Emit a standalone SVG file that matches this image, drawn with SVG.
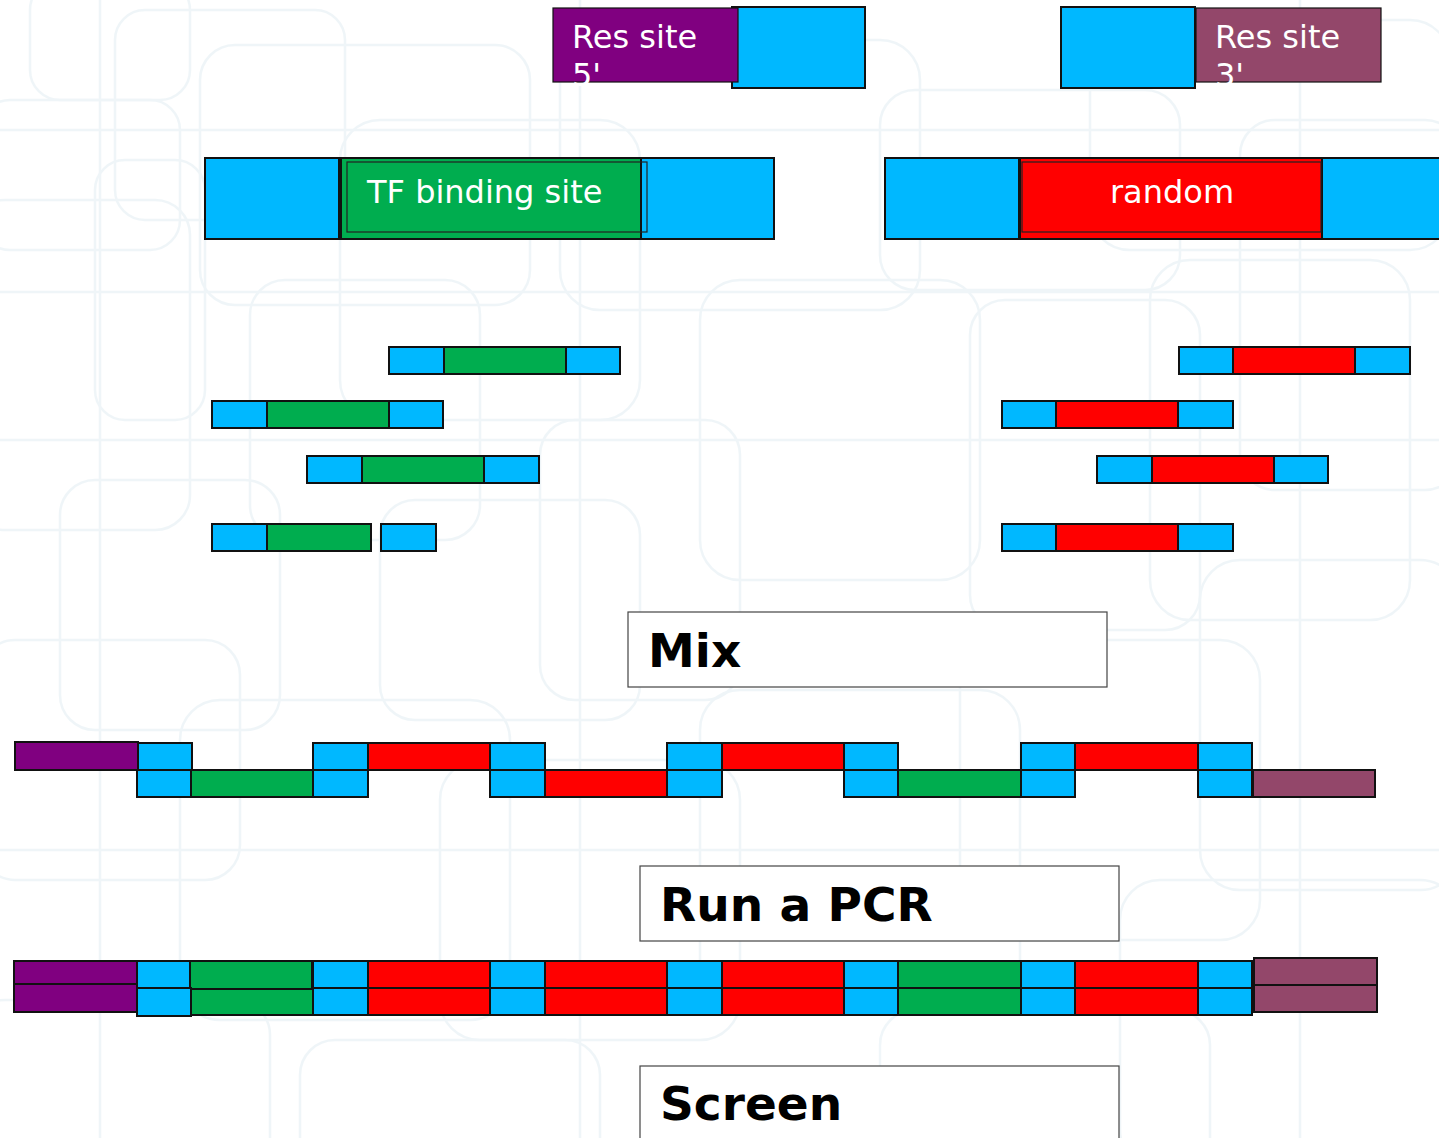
<svg xmlns="http://www.w3.org/2000/svg" width="1439" height="1138" viewBox="0 0 1439 1138">
  <defs>
    <style>
      .bg-line { fill: none; stroke: #e6f0f5; stroke-width: 2.5; }
      .b { fill: #00B8FF; stroke: #111; stroke-width: 2; }
      .g { fill: #00AD4F; stroke: #111; stroke-width: 2; }
      .r { fill: #FF0000; stroke: #111; stroke-width: 2; }
      .p { fill: #800080; stroke: #111; stroke-width: 2; }
      .m { fill: #93476A; stroke: #111; stroke-width: 2; }
      .thin { stroke-width: 1.2; }
      .inner { fill: none; stroke: #222; stroke-width: 1.2; }
      .lbl { font-family: "DejaVu Sans", "Liberation Sans", sans-serif; font-size: 32px; fill: #ffffff; }
      .step { fill: #ffffff; stroke: #444; stroke-width: 1.2; }
      .steptxt { font-family: "DejaVu Sans", "Liberation Sans", sans-serif; font-size: 47px; font-weight: bold; fill: #000; }
    </style>
  </defs>

  <!-- page background with faint rounded grid ornament -->
  <rect x="0" y="0" width="1439" height="1138" fill="#ffffff"/>
  <g id="background" class="bg-line" opacity="0.6">
    <rect x="30" y="-20" width="160" height="120" rx="30"/>
    <rect x="115" y="10" width="230" height="210" rx="30"/>
    <rect x="-20" y="100" width="200" height="150" rx="30"/>
    <rect x="200" y="45" width="330" height="260" rx="35"/>
    <rect x="95" y="160" width="110" height="260" rx="30"/>
    <rect x="-30" y="200" width="220" height="330" rx="35"/>
    <rect x="250" y="280" width="230" height="260" rx="35"/>
    <rect x="340" y="120" width="300" height="300" rx="40"/>
    <rect x="560" y="40" width="360" height="270" rx="40"/>
    <rect x="700" y="280" width="280" height="300" rx="40"/>
    <rect x="880" y="90" width="300" height="200" rx="35"/>
    <rect x="1090" y="20" width="360" height="230" rx="40"/>
    <rect x="1240" y="120" width="220" height="370" rx="35"/>
    <rect x="970" y="300" width="230" height="330" rx="35"/>
    <rect x="1150" y="260" width="260" height="360" rx="40"/>
    <rect x="540" y="420" width="200" height="280" rx="35"/>
    <rect x="380" y="500" width="260" height="220" rx="35"/>
    <rect x="60" y="480" width="220" height="250" rx="35"/>
    <rect x="-20" y="640" width="260" height="240" rx="35"/>
    <rect x="180" y="700" width="330" height="320" rx="40"/>
    <rect x="440" y="760" width="300" height="280" rx="40"/>
    <rect x="700" y="690" width="320" height="310" rx="40"/>
    <rect x="960" y="640" width="300" height="300" rx="40"/>
    <rect x="1200" y="560" width="260" height="330" rx="40"/>
    <rect x="1120" y="880" width="340" height="290" rx="40"/>
    <rect x="-30" y="1000" width="300" height="200" rx="35"/>
    <rect x="300" y="1040" width="300" height="160" rx="35"/>
    <rect x="880" y="1010" width="330" height="190" rx="35"/>
    <line x1="0" y1="130" x2="1439" y2="130"/>
    <line x1="0" y1="292" x2="1439" y2="292"/>
    <line x1="0" y1="440" x2="1439" y2="440"/>
    <line x1="0" y1="850" x2="1439" y2="850"/>
    <line x1="100" y1="0" x2="100" y2="1138"/>
    <line x1="580" y1="0" x2="580" y2="1138"/>
    <line x1="1300" y1="0" x2="1300" y2="1138"/>
  </g>

  <!-- connectors: none in this figure -->
  <g id="connectors"></g>

  <!-- restriction site primers -->
  <g id="res-site-5">
    <rect class="b" x="732" y="7" width="133" height="81"/>
    <rect class="p thin" x="553" y="8" width="185" height="74"/>
    <text class="lbl" x="572" y="48">Res site</text>
    <text class="lbl" x="572" y="86">5'</text>
  </g>
  <g id="res-site-3">
    <rect class="b" x="1061" y="7" width="134" height="81"/>
    <rect class="m thin" x="1196" y="8" width="185" height="74"/>
    <text class="lbl" x="1215" y="48">Res site</text>
    <text class="lbl" x="1215" y="86">3'</text>
  </g>

  <!-- template oligos -->
  <g id="tf-oligo">
    <rect class="b" x="205" y="158" width="134" height="81"/>
    <rect class="b" x="641" y="158" width="133" height="81"/>
    <rect class="g" x="341" y="158" width="300" height="81"/>
    <rect class="inner" x="347" y="162" width="300" height="70"/>
    <text class="lbl" x="367" y="203">TF binding site</text>
  </g>
  <g id="random-oligo">
    <rect class="b" x="885" y="158" width="134" height="81"/>
    <rect class="b" x="1321" y="158" width="130" height="81"/>
    <rect class="r" x="1020" y="158" width="302" height="81"/>
    <rect class="inner" x="1022" y="162" width="299" height="70"/>
    <text class="lbl" x="1172" y="203" text-anchor="middle">random</text>
  </g>

  <!-- short fragments, TF side -->
  <g id="tf-frag-1">
    <rect class="b" x="389" y="347" width="55" height="27"/>
    <rect class="g" x="444" y="347" width="122" height="27"/>
    <rect class="b" x="566" y="347" width="54" height="27"/>
  </g>
  <g id="tf-frag-2">
    <rect class="b" x="212" y="401" width="55" height="27"/>
    <rect class="g" x="267" y="401" width="122" height="27"/>
    <rect class="b" x="389" y="401" width="54" height="27"/>
  </g>
  <g id="tf-frag-3">
    <rect class="b" x="307" y="456" width="55" height="27"/>
    <rect class="g" x="362" y="456" width="122" height="27"/>
    <rect class="b" x="484" y="456" width="55" height="27"/>
  </g>
  <g id="tf-frag-4">
    <rect class="b" x="212" y="524" width="55" height="27"/>
    <rect class="g" x="267" y="524" width="104" height="27"/>
    <rect class="b" x="381" y="524" width="55" height="27"/>
  </g>

  <!-- short fragments, random side -->
  <g id="rnd-frag-1">
    <rect class="b" x="1179" y="347" width="54" height="27"/>
    <rect class="r" x="1233" y="347" width="122" height="27"/>
    <rect class="b" x="1355" y="347" width="55" height="27"/>
  </g>
  <g id="rnd-frag-2">
    <rect class="b" x="1002" y="401" width="54" height="27"/>
    <rect class="r" x="1056" y="401" width="122" height="27"/>
    <rect class="b" x="1178" y="401" width="55" height="27"/>
  </g>
  <g id="rnd-frag-3">
    <rect class="b" x="1097" y="456" width="55" height="27"/>
    <rect class="r" x="1152" y="456" width="122" height="27"/>
    <rect class="b" x="1274" y="456" width="54" height="27"/>
  </g>
  <g id="rnd-frag-4">
    <rect class="b" x="1002" y="524" width="54" height="27"/>
    <rect class="r" x="1056" y="524" width="122" height="27"/>
    <rect class="b" x="1178" y="524" width="55" height="27"/>
  </g>

  <!-- step: mix -->
  <g id="step-mix">
    <rect class="step" x="628" y="612" width="479" height="75"/>
    <text class="steptxt" x="648" y="667">Mix</text>
  </g>

  <!-- annealed staggered duplex -->
  <g id="annealed-duplex">
    <!-- upper strand -->
    <rect class="p" x="15" y="742" width="123" height="28"/>
    <rect class="b" x="138" y="743" width="54" height="27"/>
    <rect class="b" x="313" y="743" width="55" height="27"/>
    <rect class="r" x="368" y="743" width="122" height="27"/>
    <rect class="b" x="490" y="743" width="55" height="27"/>
    <rect class="b" x="667" y="743" width="55" height="27"/>
    <rect class="r" x="722" y="743" width="122" height="27"/>
    <rect class="b" x="844" y="743" width="54" height="27"/>
    <rect class="b" x="1021" y="743" width="54" height="27"/>
    <rect class="r" x="1075" y="743" width="123" height="27"/>
    <rect class="b" x="1198" y="743" width="54" height="27"/>
    <!-- lower strand -->
    <rect class="b" x="137" y="770" width="54" height="27"/>
    <rect class="g" x="191" y="770" width="122" height="27"/>
    <rect class="b" x="313" y="770" width="55" height="27"/>
    <rect class="b" x="490" y="770" width="55" height="27"/>
    <rect class="r" x="545" y="770" width="122" height="27"/>
    <rect class="b" x="667" y="770" width="55" height="27"/>
    <rect class="b" x="844" y="770" width="54" height="27"/>
    <rect class="g" x="898" y="770" width="123" height="27"/>
    <rect class="b" x="1021" y="770" width="54" height="27"/>
    <rect class="b" x="1198" y="770" width="54" height="27"/>
    <rect class="m" x="1253" y="770" width="122" height="27"/>
  </g>

  <!-- step: PCR -->
  <g id="step-pcr">
    <rect class="step" x="640" y="866" width="479" height="75"/>
    <text class="steptxt" x="660" y="921">Run a PCR</text>
  </g>

  <!-- full double-stranded product -->
  <g id="pcr-product">
    <!-- upper strand -->
    <rect class="p" x="14" y="961" width="123" height="23"/>
    <rect class="b" x="137" y="961" width="53" height="27"/>
    <rect class="g" x="190" y="961" width="122" height="28"/>
    <rect class="b" x="313" y="961" width="55" height="27"/>
    <rect class="r" x="368" y="961" width="122" height="27"/>
    <rect class="b" x="490" y="961" width="55" height="27"/>
    <rect class="r" x="545" y="961" width="122" height="27"/>
    <rect class="b" x="667" y="961" width="55" height="27"/>
    <rect class="r" x="722" y="961" width="122" height="27"/>
    <rect class="b" x="844" y="961" width="54" height="27"/>
    <rect class="g" x="898" y="961" width="123" height="27"/>
    <rect class="b" x="1021" y="961" width="54" height="27"/>
    <rect class="r" x="1075" y="961" width="123" height="27"/>
    <rect class="b" x="1198" y="961" width="54" height="27"/>
    <rect class="m" x="1254" y="958" width="123" height="27"/>
    <!-- lower strand -->
    <rect class="p" x="14" y="984" width="123" height="28"/>
    <rect class="b" x="137" y="988" width="54" height="28"/>
    <rect class="g" x="191" y="989" width="122" height="26"/>
    <rect class="b" x="313" y="988" width="55" height="27"/>
    <rect class="r" x="368" y="988" width="122" height="27"/>
    <rect class="b" x="490" y="988" width="55" height="27"/>
    <rect class="r" x="545" y="988" width="122" height="27"/>
    <rect class="b" x="667" y="988" width="55" height="27"/>
    <rect class="r" x="722" y="988" width="122" height="27"/>
    <rect class="b" x="844" y="988" width="54" height="27"/>
    <rect class="g" x="898" y="988" width="123" height="27"/>
    <rect class="b" x="1021" y="988" width="54" height="27"/>
    <rect class="r" x="1075" y="988" width="123" height="27"/>
    <rect class="b" x="1198" y="988" width="54" height="27"/>
    <rect class="m" x="1254" y="985" width="123" height="27"/>
  </g>

  <!-- step: screen -->
  <g id="step-screen">
    <rect class="step" x="640" y="1066" width="479" height="90"/>
    <text class="steptxt" x="660" y="1120">Screen</text>
  </g>
</svg>
